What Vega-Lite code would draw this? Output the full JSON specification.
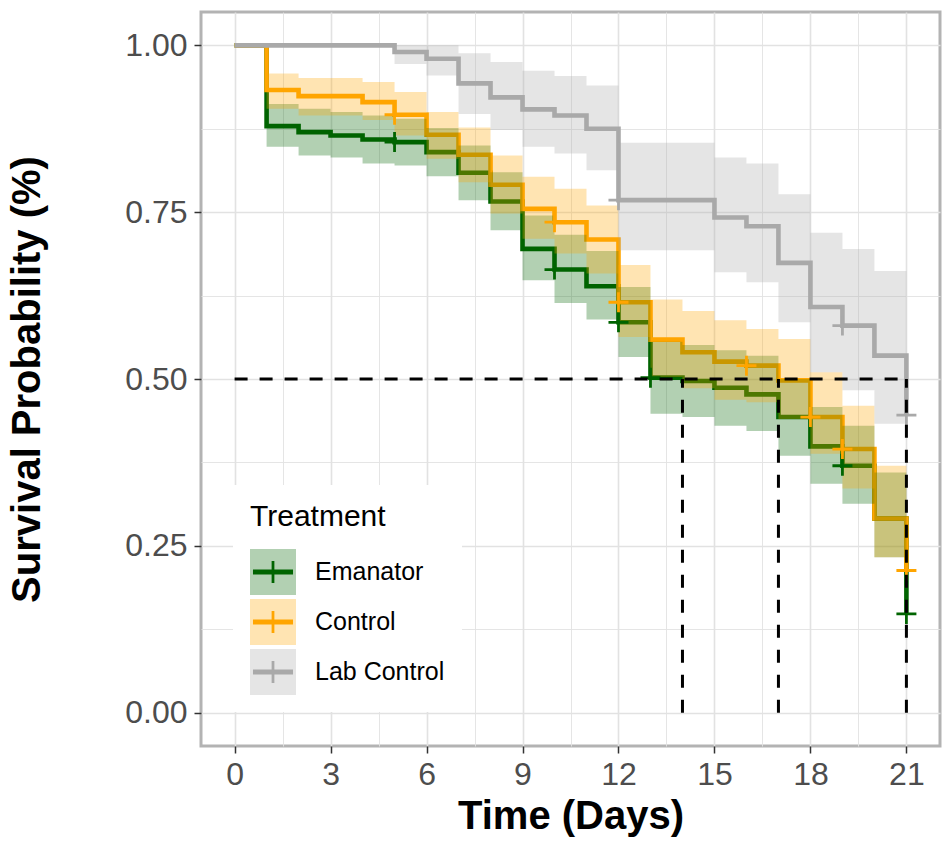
{
  "$schema": "https://vega.github.io/schema/vega-lite/v6.json",
  "width": 739,
  "height": 734,
  "autosize": {"type": "none"},
  "padding": {"left": 201, "top": 12, "right": 8, "bottom": 99},
  "background": "white",
  "config": {
    "font": "Liberation Sans",
    "view": {"stroke": "#b3b3b3", "strokeWidth": 3},
    "axis": {
      "domain": false,
      "gridColor": "#e2e2e2",
      "tickSize": 7,
      "tickWidth": 1.5,
      "labelFont": "Liberation Sans",
      "labelFontSize": 32,
      "labelColor": "#4d4d4d",
      "titleFont": "Liberation Sans",
      "titleFontSize": 40,
      "titleFontWeight": "bold",
      "titleColor": "#000000"
    }
  },
  "datasets": {
    "curves": [
      {"Treatment": "Emanator", "time": 0, "surv": 1, "lower": 1, "upper": 1},
      {"Treatment": "Emanator", "time": 1, "surv": 0.879, "lower": 0.848, "upper": 0.912},
      {"Treatment": "Emanator", "time": 2, "surv": 0.870, "lower": 0.835, "upper": 0.905},
      {"Treatment": "Emanator", "time": 3, "surv": 0.865, "lower": 0.832, "upper": 0.900},
      {"Treatment": "Emanator", "time": 4, "surv": 0.859, "lower": 0.823, "upper": 0.895},
      {"Treatment": "Emanator", "time": 5, "surv": 0.855, "lower": 0.820, "upper": 0.890},
      {"Treatment": "Emanator", "time": 6, "surv": 0.840, "lower": 0.804, "upper": 0.876},
      {"Treatment": "Emanator", "time": 7, "surv": 0.809, "lower": 0.768, "upper": 0.850},
      {"Treatment": "Emanator", "time": 8, "surv": 0.766, "lower": 0.723, "upper": 0.810},
      {"Treatment": "Emanator", "time": 9, "surv": 0.695, "lower": 0.648, "upper": 0.745},
      {"Treatment": "Emanator", "time": 10, "surv": 0.664, "lower": 0.614, "upper": 0.716},
      {"Treatment": "Emanator", "time": 11, "surv": 0.639, "lower": 0.589, "upper": 0.692},
      {"Treatment": "Emanator", "time": 12, "surv": 0.585, "lower": 0.533, "upper": 0.638},
      {"Treatment": "Emanator", "time": 13, "surv": 0.502, "lower": 0.448, "upper": 0.556},
      {"Treatment": "Emanator", "time": 14, "surv": 0.497, "lower": 0.443, "upper": 0.551},
      {"Treatment": "Emanator", "time": 15, "surv": 0.487, "lower": 0.430, "upper": 0.543},
      {"Treatment": "Emanator", "time": 16, "surv": 0.477, "lower": 0.422, "upper": 0.535},
      {"Treatment": "Emanator", "time": 17, "surv": 0.443, "lower": 0.385, "upper": 0.500},
      {"Treatment": "Emanator", "time": 18, "surv": 0.399, "lower": 0.343, "upper": 0.458},
      {"Treatment": "Emanator", "time": 19, "surv": 0.370, "lower": 0.313, "upper": 0.430},
      {"Treatment": "Emanator", "time": 20, "surv": 0.291, "lower": 0.233, "upper": 0.360},
      {"Treatment": "Emanator", "time": 21, "surv": 0.148, "lower": 0.090, "upper": 0.240},
      {"Treatment": "Control", "time": 0, "surv": 1, "lower": 1, "upper": 1},
      {"Treatment": "Control", "time": 1, "surv": 0.933, "lower": 0.905, "upper": 0.958},
      {"Treatment": "Control", "time": 2, "surv": 0.924, "lower": 0.895, "upper": 0.951},
      {"Treatment": "Control", "time": 4, "surv": 0.915, "lower": 0.888, "upper": 0.945},
      {"Treatment": "Control", "time": 5, "surv": 0.896, "lower": 0.865, "upper": 0.930},
      {"Treatment": "Control", "time": 6, "surv": 0.866, "lower": 0.830, "upper": 0.900},
      {"Treatment": "Control", "time": 7, "surv": 0.836, "lower": 0.795, "upper": 0.877},
      {"Treatment": "Control", "time": 8, "surv": 0.791, "lower": 0.748, "upper": 0.835},
      {"Treatment": "Control", "time": 9, "surv": 0.755, "lower": 0.710, "upper": 0.803},
      {"Treatment": "Control", "time": 10, "surv": 0.735, "lower": 0.688, "upper": 0.785},
      {"Treatment": "Control", "time": 11, "surv": 0.709, "lower": 0.658, "upper": 0.760},
      {"Treatment": "Control", "time": 12, "surv": 0.615, "lower": 0.563, "upper": 0.671},
      {"Treatment": "Control", "time": 13, "surv": 0.559, "lower": 0.503, "upper": 0.619},
      {"Treatment": "Control", "time": 14, "surv": 0.540, "lower": 0.486, "upper": 0.602},
      {"Treatment": "Control", "time": 15, "surv": 0.526, "lower": 0.469, "upper": 0.588},
      {"Treatment": "Control", "time": 16, "surv": 0.520, "lower": 0.465, "upper": 0.575},
      {"Treatment": "Control", "time": 17, "surv": 0.498, "lower": 0.440, "upper": 0.560},
      {"Treatment": "Control", "time": 18, "surv": 0.443, "lower": 0.388, "upper": 0.510},
      {"Treatment": "Control", "time": 19, "surv": 0.395, "lower": 0.336, "upper": 0.460},
      {"Treatment": "Control", "time": 20, "surv": 0.291, "lower": 0.233, "upper": 0.370},
      {"Treatment": "Control", "time": 21, "surv": 0.213, "lower": 0.150, "upper": 0.300},
      {"Treatment": "Lab Control", "time": 0, "surv": 1, "lower": 1, "upper": 1},
      {"Treatment": "Lab Control", "time": 5, "surv": 0.990, "lower": 0.972, "upper": 1},
      {"Treatment": "Lab Control", "time": 6, "surv": 0.980, "lower": 0.955, "upper": 1},
      {"Treatment": "Lab Control", "time": 7, "surv": 0.943, "lower": 0.897, "upper": 0.988},
      {"Treatment": "Lab Control", "time": 8, "surv": 0.922, "lower": 0.873, "upper": 0.975},
      {"Treatment": "Lab Control", "time": 9, "surv": 0.904, "lower": 0.848, "upper": 0.962},
      {"Treatment": "Lab Control", "time": 10, "surv": 0.895, "lower": 0.838, "upper": 0.954},
      {"Treatment": "Lab Control", "time": 11, "surv": 0.875, "lower": 0.813, "upper": 0.940},
      {"Treatment": "Lab Control", "time": 12, "surv": 0.768, "lower": 0.693, "upper": 0.854},
      {"Treatment": "Lab Control", "time": 15, "surv": 0.742, "lower": 0.660, "upper": 0.832},
      {"Treatment": "Lab Control", "time": 16, "surv": 0.729, "lower": 0.645, "upper": 0.823},
      {"Treatment": "Lab Control", "time": 17, "surv": 0.674, "lower": 0.585, "upper": 0.777},
      {"Treatment": "Lab Control", "time": 18, "surv": 0.608, "lower": 0.510, "upper": 0.719},
      {"Treatment": "Lab Control", "time": 19, "surv": 0.580, "lower": 0.483, "upper": 0.695},
      {"Treatment": "Lab Control", "time": 20, "surv": 0.535, "lower": 0.433, "upper": 0.662},
      {"Treatment": "Lab Control", "time": 21, "surv": 0.446, "lower": 0.340, "upper": 0.580}
    ],
    "censored": [
      {"Treatment": "Emanator", "time": 5, "surv": 0.855},
      {"Treatment": "Emanator", "time": 10, "surv": 0.664},
      {"Treatment": "Emanator", "time": 12, "surv": 0.585},
      {"Treatment": "Emanator", "time": 13, "surv": 0.502},
      {"Treatment": "Emanator", "time": 19, "surv": 0.370},
      {"Treatment": "Emanator", "time": 21, "surv": 0.148},
      {"Treatment": "Control", "time": 5, "surv": 0.896},
      {"Treatment": "Control", "time": 10, "surv": 0.735},
      {"Treatment": "Control", "time": 12, "surv": 0.615},
      {"Treatment": "Control", "time": 16, "surv": 0.520},
      {"Treatment": "Control", "time": 18, "surv": 0.443},
      {"Treatment": "Control", "time": 19, "surv": 0.395},
      {"Treatment": "Control", "time": 21, "surv": 0.213},
      {"Treatment": "Lab Control", "time": 12, "surv": 0.768},
      {"Treatment": "Lab Control", "time": 19, "surv": 0.580},
      {"Treatment": "Lab Control", "time": 21, "surv": 0.446}
    ],
    "medians": [
      {"time": 0, "time2": 21, "surv": 0.5, "surv2": 0.5},
      {"time": 14, "time2": 14, "surv": 0, "surv2": 0.5},
      {"time": 17, "time2": 17, "surv": 0, "surv2": 0.5},
      {"time": 21, "time2": 21, "surv": 0, "surv2": 0.5}
    ]
  },
  "layer": [
    {
      "data": {"name": "curves"},
      "mark": {"type": "line", "interpolate": "step-after", "strokeWidth": 4.6},
      "encoding": {
        "x": {
          "field": "time",
          "type": "quantitative",
          "scale": {"domain": [-1.05, 22.05], "nice": false, "zero": false},
          "axis": {
            "title": "Time (Days)",
            "values": [0, 1.5, 3, 4.5, 6, 7.5, 9, 10.5, 12, 13.5, 15, 16.5, 18, 19.5, 21],
            "labelExpr": "datum.value % 3 === 0 ? datum.label : ''",
            "labelPadding": 6,
            "titlePadding": 6,
            "tickColor": {"condition": {"test": "datum.value % 3 !== 0", "value": "transparent"}, "value": "#333333"},
            "gridWidth": {"condition": {"test": "datum.value % 3 !== 0", "value": 0.9}, "value": 1.6}
          }
        },
        "y": {
          "field": "surv",
          "type": "quantitative",
          "scale": {"domain": [-0.05, 1.05], "nice": false, "zero": false},
          "axis": {
            "title": "Survival Probability (%)",
            "values": [0, 0.125, 0.25, 0.375, 0.5, 0.625, 0.75, 0.875, 1],
            "format": ".2f",
            "labelExpr": "(datum.value * 8) % 2 === 0 ? datum.label : ''",
            "labelPadding": 7,
            "titlePadding": 77,
            "tickColor": {"condition": {"test": "(datum.value * 8) % 2 !== 0", "value": "transparent"}, "value": "#333333"},
            "gridWidth": {"condition": {"test": "(datum.value * 8) % 2 !== 0", "value": 0.9}, "value": 1.6}
          }
        },
        "stroke": {
          "field": "Treatment",
          "type": "nominal",
          "sort": ["Emanator", "Control", "Lab Control"],
          "scale": {"range": ["#006400", "#FFA500", "#A9A9A9"]},
          "legend": null
        }
      }
    },
    {
      "data": {"name": "curves"},
      "mark": {"type": "area", "interpolate": "step-after", "opacity": 0.3},
      "encoding": {
        "x": {"field": "time", "type": "quantitative"},
        "y": {"field": "lower", "type": "quantitative"},
        "y2": {"field": "upper"},
        "color": {
          "field": "Treatment",
          "type": "nominal",
          "sort": ["Emanator", "Control", "Lab Control"],
          "scale": {"range": ["#006400", "#FFA500", "#A9A9A9"]},
          "legend": {
            "title": "Treatment",
            "orient": "none",
            "legendX": 32,
            "legendY": 473,
            "padding": 17,
            "fillColor": "white",
            "strokeColor": null,
            "titleFont": "Liberation Sans",
            "titleFontSize": 30,
            "titleFontWeight": "normal",
            "titleColor": "#000000",
            "titlePadding": 17,
            "labelFont": "Liberation Sans",
            "labelFontSize": 25,
            "labelColor": "#000000",
            "labelOffset": 19,
            "rowPadding": 4,
            "symbolType": "square",
            "symbolSize": 2116,
            "symbolOpacity": 0.3,
            "symbolStrokeWidth": 0,
            "zindex": 1
          }
        }
      }
    },
    {
      "data": {"name": "censored"},
      "mark": {
        "type": "point",
        "filled": true,
        "opacity": 1,
        "strokeWidth": 0,
        "size": 400,
        "shape": "M-1,-0.14H1V0.14H-1Z M-0.14,-1H0.14V1H-0.14Z"
      },
      "encoding": {
        "x": {"field": "time", "type": "quantitative"},
        "y": {"field": "surv", "type": "quantitative"},
        "fill": {
          "field": "Treatment",
          "type": "nominal",
          "sort": ["Emanator", "Control", "Lab Control"],
          "scale": {"range": ["#006400", "#FFA500", "#A9A9A9"]},
          "legend": {
            "title": " ",
            "orient": "none",
            "legendX": 32,
            "legendY": 473,
            "padding": 17,
            "titleFont": "Liberation Sans",
            "titleFontSize": 30,
            "titleFontWeight": "normal",
            "titlePadding": 17,
            "labelFont": "Liberation Sans",
            "labelFontSize": 25,
            "labelExpr": "''",
            "labelOffset": 19,
            "rowPadding": 4,
            "symbolType": "M-1,-1M1,1M-0.87,-0.104H0.87V0.104H-0.87Z M-0.06,-0.48H0.06V0.48H-0.06Z",
            "symbolSize": 2116,
            "symbolOpacity": 1,
            "symbolStrokeWidth": 0,
            "zindex": 2
          }
        }
      }
    },
    {
      "data": {"name": "medians"},
      "mark": {"type": "rule", "color": "#000000", "strokeWidth": 3, "strokeDash": [13, 12]},
      "encoding": {
        "x": {"field": "time", "type": "quantitative"},
        "x2": {"field": "time2"},
        "y": {"field": "surv", "type": "quantitative"},
        "y2": {"field": "surv2"}
      }
    }
  ]
}
